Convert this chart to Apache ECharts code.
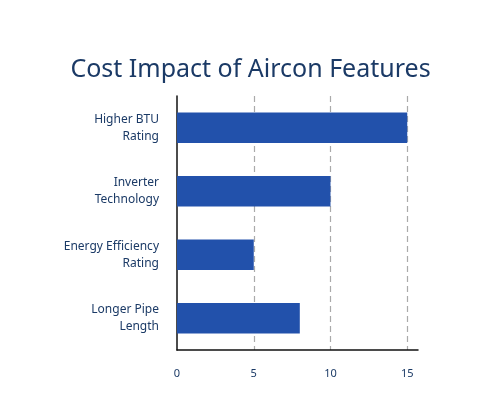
<!DOCTYPE html>
<html><head><meta charset="utf-8">
<script src="https://cdn.jsdelivr.net/npm/echarts@6/dist/echarts.min.js"></script>
<style>html,body{margin:0;background:#fff}#c{width:501px;height:405px}</style>
</head><body><div id="c"></div>
<script>
const categories = ["Higher BTU\nRating","Inverter\nTechnology","Energy Efficiency\nRating","Longer Pipe\nLength"];
const values = [15,10,5,8];
const navy = "#1b3a66";
const chart = echarts.init(document.getElementById('c'));
chart.setOption({
  title:{text:"Cost Impact of Aircon Features",left:'center',top:52,textStyle:{fontFamily:"Noto Sans",fontWeight:'normal',fontSize:25,color:navy}},
  grid:{left:177,right:83,top:96,bottom:55,containLabel:false},
  xAxis:{type:'value',min:0,max:15.7,interval:5,
    axisLine:{show:true,lineStyle:{color:'#111',width:1.5}},axisTick:{show:false},
    axisLabel:{color:navy,fontFamily:"Noto Sans",fontSize:11,margin:18,showMaxLabel:false},
    splitLine:{show:true,showMinLine:false,showMaxLine:false,lineStyle:{type:[6,4],color:'#aaa',width:1.2}}},
  yAxis:{type:'category',inverse:true,data:categories,
    axisLine:{show:true,lineStyle:{color:'#111',width:1.5}},axisTick:{show:false},
    axisLabel:{color:navy,fontFamily:"Noto Sans",fontSize:12,lineHeight:17,align:'right',margin:18}},
  series:[{type:'bar',data:values,barWidth:'48%',itemStyle:{color:'#2251ab'}}]
});
</script></body></html>
